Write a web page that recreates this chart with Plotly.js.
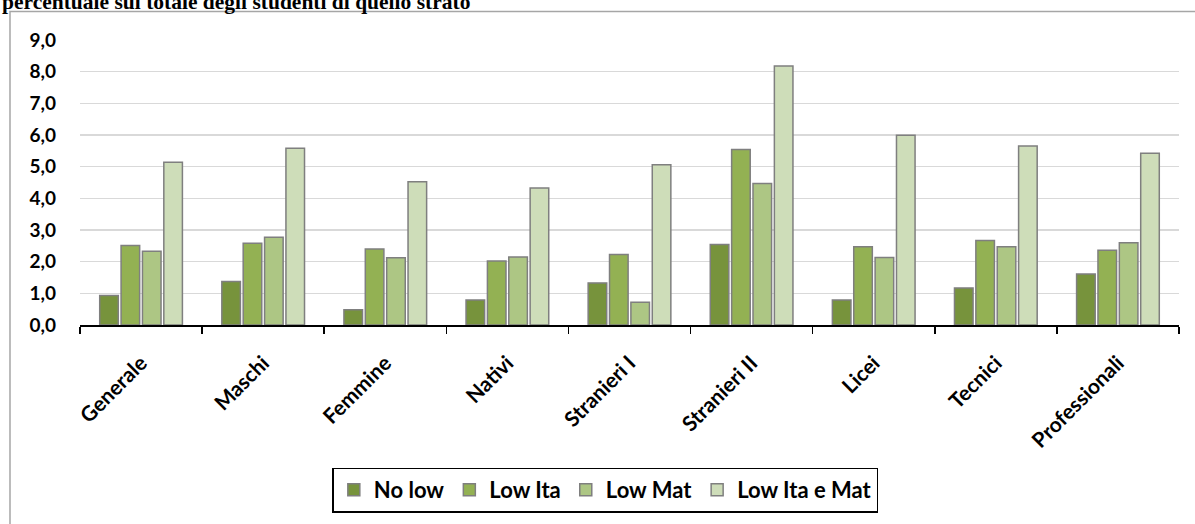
<!DOCTYPE html>
<html>
<head>
<meta charset="utf-8">
<script src="https://cdn.plot.ly/plotly-3.0.1.min.js"></script>
<style>html,body{margin:0;padding:0;background:#fff;}#chart{width:1195px;height:524px;}</style>
</head>
<body>
<div id="chart"></div>
<script>
const categories = ["Generale", "Maschi", "Femmine", "Nativi", "Stranieri I", "Stranieri II", "Licei", "Tecnici", "Professionali"];
const seriesNames = ["No low", "Low Ita", "Low Mat", "Low Ita e Mat"];
const noLow      = [0.93, 1.37, 0.48, 0.79, 1.33, 2.54, 0.79, 1.17, 1.61];
const lowIta     = [2.51, 2.58, 2.40, 2.02, 2.23, 5.54, 2.47, 2.67, 2.36];
const lowMat     = [2.33, 2.77, 2.12, 2.15, 0.72, 4.47, 2.13, 2.47, 2.60];
const lowItaMat  = [5.14, 5.58, 4.52, 4.33, 5.06, 8.18, 5.99, 5.65, 5.42];
const yTicks = [0, 1, 2, 3, 4, 5, 6, 7, 8, 9];
const titleText = "percentuale sul totale degli studenti di quello strato";

const colors = ["#77933C", "#93B153", "#ADC684", "#CEDDB9"];
const seriesValues = [noLow, lowIta, lowMat, lowItaMat];
const font = "Lato, 'Open Sans', sans-serif";

const traces = seriesValues.map((vals, i) => ({
  type: "bar",
  name: seriesNames[i],
  x: categories,
  y: vals,
  marker: {color: colors[i], line: {color: "#7F7F7F", width: 1.5}},
  hoverinfo: "x+y+name"
}));

const layout = {
  width: 1195, height: 524,
  paper_bgcolor: "#fff", plot_bgcolor: "#fff",
  margin: {l: 80, r: 16, t: 40, b: 195},
  separators: ",.",
  barmode: "group",
  bargap: 0.30,
  bargroupgap: 0.13,
  showlegend: true,
  font: {family: font, color: "#000"},
  xaxis: {
    type: "category",
    automargin: false,
    categoryorder: "array", categoryarray: categories,
    tickson: "boundaries",
    ticks: "outside", ticklen: 7, tickwidth: 1.5, tickcolor: "#000",
    showline: true, linecolor: "#000", linewidth: 1.5,
    showgrid: false,
    tickangle: -45,
    ticklabelstandoff: 16,
    tickfont: {family: font, size: 21, weight: "bold", color: "#000"}
  },
  xaxis2: {
    type: "category",
    automargin: false,
    overlaying: "x", anchor: "y", side: "bottom",
    categoryorder: "array", categoryarray: categories,
    range: [-0.5, categories.length - 0.5],
    tickson: "boundaries",
    ticks: "inside", ticklen: 7, tickwidth: 1.5, tickcolor: "#000",
    showticklabels: false, showgrid: false, showline: false
  },
  yaxis: {
    automargin: false,
    range: [0, 9],
    tickmode: "array", tickvals: yTicks,
    tickformat: ".1f",
    showgrid: true, gridcolor: "#D9D9D9", gridwidth: 1.5,
    zeroline: false, showline: false, ticks: "",
    ticklabelstandoff: 23,
    tickfont: {family: font, size: 19, weight: "bold", color: "#000"}
  },
  legend: {
    orientation: "h",
    x: 0.478, xanchor: "center",
    y: -0.5, yanchor: "top",
    bordercolor: "#000", borderwidth: 1.5,
    font: {family: font, size: 22, weight: "bold", color: "#000"},
    traceorder: "normal"
  },
  annotations: [{
    text: titleText,
    xref: "paper", yref: "paper",
    x: -0.0728, xanchor: "left",
    y: 1.135, yanchor: "middle",
    showarrow: false,
    font: {family: "'Liberation Serif', serif", size: 21.5, weight: "bold", color: "#000"}
  }],
  shapes: [{
    type: "rect", xref: "paper", yref: "paper",
    x0: -0.0637, x1: 1.02, y0: -0.72, y1: 1.100,
    line: {color: "#A6A6A6", width: 1.5},
    layer: "below"
  }]
};

Plotly.newPlot("chart", traces, layout, {displayModeBar: false, staticPlot: true});
</script>
</body>
</html>
